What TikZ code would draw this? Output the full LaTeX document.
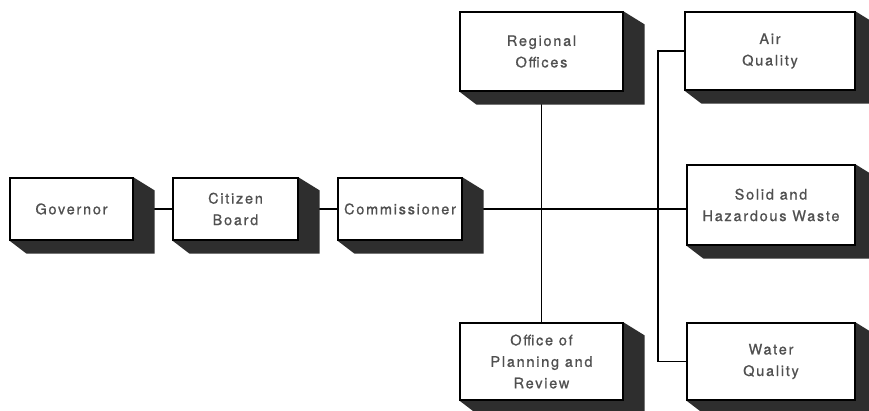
\documentclass[tikz,border=0pt]{standalone}
\usepackage{fontspec}
\setmainfont{TeX Gyre Heros}[LetterSpace=12, FakeBold=0.8]
\usetikzlibrary{calc}
\definecolor{txt}{HTML}{505050}
\definecolor{shadowc}{HTML}{2E2E2E}
\pgfdeclarelayer{lines}
\pgfdeclarelayer{shadows}
\pgfsetlayers{lines,shadows,main}
\tikzset{
  orgbox/.style={draw=black, line width=1.2pt, fill=white, rectangle,
    inner sep=0pt, align=center, text=txt,
    font=\fontsize{14.5}{21.5}\selectfont},
  link/.style={draw=black, line width=1.1pt},
}
\newcommand\extrude[1]{%
  \fill[shadowc] (#1.north east) -- ($(#1.north east)+(21,13)$) --
    ($(#1.south east)+(21,13)$) -- ($(#1.south west)+(17,13)$) --
    (#1.south west) -- cycle;}
\begin{document}
\begin{tikzpicture}[x=1pt,y=-1pt]
\clip (0,0) rectangle (869,411);
\coordinate (bus) at (658,0);
\path
  (71.5,209) node[orgbox, minimum width=123pt, minimum height=62pt] (gov) {Governor}
  (235.5,209) node[orgbox, minimum width=125pt, minimum height=62pt] (cit) {Citizen\\Board}
  (400,209) node[orgbox, minimum width=124pt, minimum height=62pt] (com) {Commissioner}
  (541.5,51.5) node[orgbox, minimum width=163pt, minimum height=79pt] (reg) {Regional\\Offices}
  (541.5,361.5) node[orgbox, minimum width=163pt, minimum height=77pt] (opr) {Office of\\Planning and\\Review}
  (770,51) node[orgbox, minimum width=170pt, minimum height=78pt] (air) {Air\\Quality}
  (771,205) node[orgbox, minimum width=168pt, minimum height=80pt] (sol) {Solid and\\Hazardous Waste}
  (771,361.5) node[orgbox, minimum width=168pt, minimum height=77pt] (wat) {Water\\Quality};
\begin{pgfonlayer}{shadows}
\foreach \n in {gov,cit,com,reg,opr,air,sol,wat} {\extrude{\n}}
\end{pgfonlayer}
\begin{pgfonlayer}{lines}
\fill[white] (0,0) rectangle (869,411);
\draw[link] (gov) -- (cit);
\draw[link] (cit) -- (com);
\draw[link] (com) -- (com -| sol.west);
\draw[link] (reg) -- (opr);
\draw[link] (air) -- (air -| bus) -- (wat -| bus) -- (wat);
\end{pgfonlayer}
\end{tikzpicture}
\end{document}
